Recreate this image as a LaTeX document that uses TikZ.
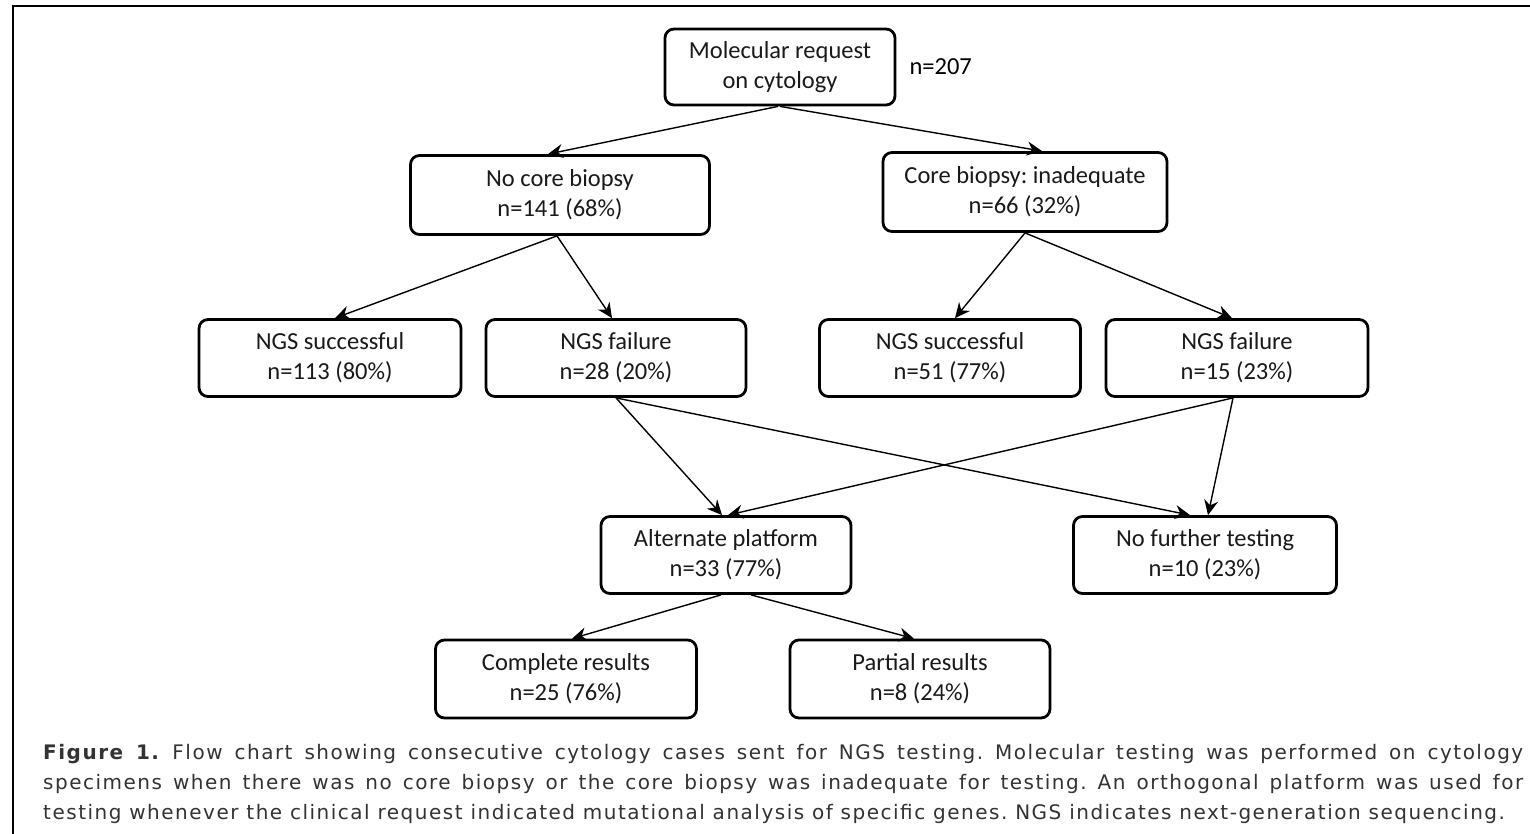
\documentclass[tikz,border=0pt]{standalone}
\usepackage{fontspec}
\setmainfont{Carlito}
\newfontfamily\capfont[LetterSpace=7.5]{DejaVu Sans}
\usetikzlibrary{arrows.meta}
\begin{document}
\frenchspacing
\begin{tikzpicture}[x=1pt,y=-1pt,
  box/.style={draw, line width=2.8pt, rounded corners=9pt, align=center,
    font=\fontsize{24.5}{30}\selectfont, inner sep=0pt, text=black!90},
  flow/.style={line width=1.4pt, -{Stealth[length=15pt,width=14pt,inset=5pt]}},
  captxt/.style={anchor=base west, inner sep=0pt, text=black!80,
    font=\capfont\fontsize{20}{24}\selectfont}]
\useasboundingbox (0,0) rectangle (1530,834);
\fill[white] (0,0) rectangle (1530,834);
\draw[line width=2.2pt] (13,834) -- (13,6) -- (1530,6);

\node[box, minimum width=230pt, minimum height=76pt] (mol) at (780,67) {Molecular request\\on cytology};
\node[anchor=west, font=\fontsize{24.5}{30}\selectfont] (n207) at (906,67) {n=207};
\node[box, minimum width=299pt, minimum height=79pt] (nocore) at (560,195) {No core biopsy\\n=141 (68\%)};
\node[box, minimum width=284pt, minimum height=79pt] (core) at (1025,192) {Core biopsy: inadequate\\n=66 (32\%)};
\node[box, minimum width=262pt, minimum height=77pt] (sl) at (330,358) {NGS successful\\n=113 (80\%)};
\node[box, minimum width=260pt, minimum height=77pt] (fl) at (616,358) {NGS failure\\n=28 (20\%)};
\node[box, minimum width=261pt, minimum height=77pt] (sr) at (950,358) {NGS successful\\n=51 (77\%)};
\node[box, minimum width=262pt, minimum height=77pt] (fr) at (1237,358) {NGS failure\\n=15 (23\%)};
\node[box, minimum width=250pt, minimum height=77pt] (alt) at (726,555) {Alternate platform\\n=33 (77\%)};
\node[box, minimum width=263pt, minimum height=77pt] (nft) at (1205,555) {No further testing\\n=10 (23\%)};
\node[box, minimum width=261pt, minimum height=78pt] (comp) at (566,679) {Complete results\\n=25 (76\%)};
\node[box, minimum width=260pt, minimum height=78pt] (part) at (920,679) {Partial results\\n=8 (24\%)};

\draw[flow] ([xshift=-2pt]mol.south) -- ([xshift=-12pt]nocore.north);
\draw[flow] ([xshift=0pt]mol.south) -- ([xshift=17pt]core.north);
\draw[flow] ([xshift=-3pt]nocore.south) -- ([xshift=5pt]sl.north);
\draw[flow] ([xshift=-3pt]nocore.south) -- ([xshift=-4pt]fl.north);
\draw[flow] (core.south) -- ([xshift=5pt]sr.north);
\draw[flow] (core.south) -- ([xshift=-5pt]fr.north);
\draw[flow] (fl.south) -- ([xshift=-4pt]alt.north);
\draw[flow] (fl.south) -- ([xshift=-15pt]nft.north);
\draw[flow] ([xshift=-4pt]fr.south) -- ([xshift=2pt]alt.north);
\draw[flow] ([xshift=-4pt]fr.south) -- ([xshift=3pt]nft.north);
\draw[flow] ([xshift=-5pt]alt.south) -- ([xshift=6pt]comp.north);
\draw[flow] ([xshift=25pt]alt.south) -- ([xshift=-6pt]part.north);

\node[captxt] (cap1) at (43,759) {\makebox[1480pt][s]{\textbf{Figure 1.} Flow chart showing consecutive cytology cases sent for NGS testing. Molecular testing was performed on cytology}};
\node[captxt] (cap2) at (43,789) {\makebox[1480pt][s]{specimens when there was no core biopsy or the core biopsy was inadequate for testing. An orthogonal platform was used for}};
\node[captxt] (cap3) at (43,819) {testing whenever the clinical request indicated mutational analysis of specific genes. NGS indicates next-generation sequencing.};
\end{tikzpicture}
\end{document}
